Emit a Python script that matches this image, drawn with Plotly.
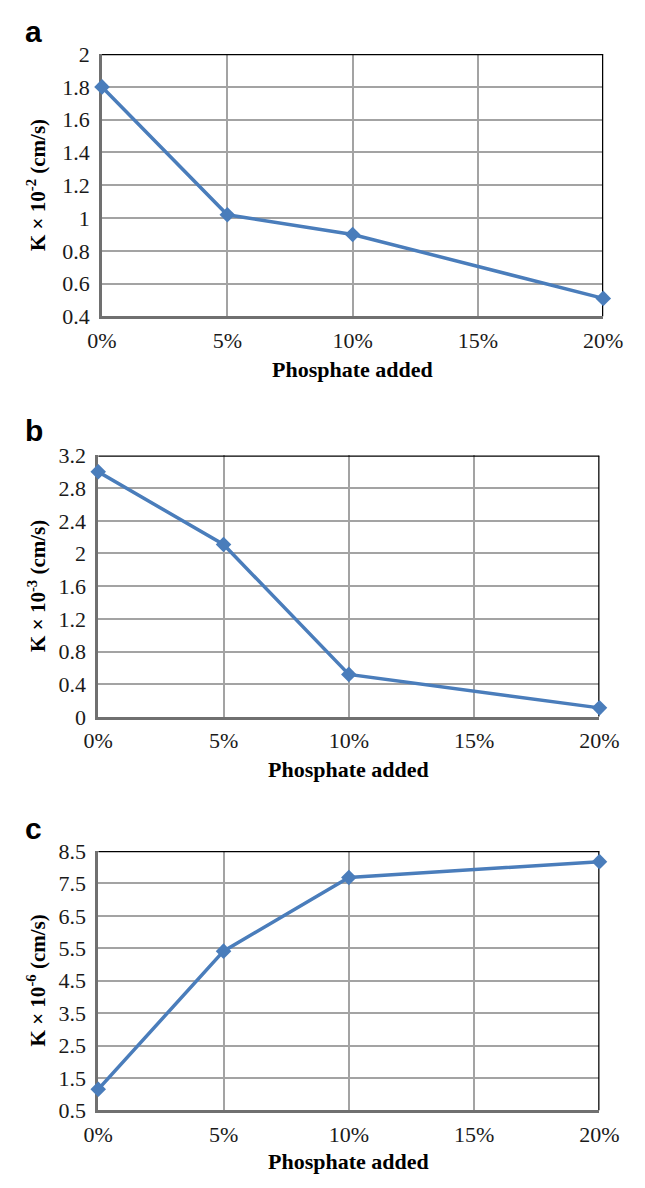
import plotly.graph_objects as go

# ---- data ----
phosphate_pct = [0, 5, 10, 20]
tick_pct = [0, 5, 10, 15, 20]
k_a = [1.80, 1.02, 0.90, 0.51]   # K x 10^-2 cm/s
k_b = [3.00, 2.11, 0.52, 0.11]   # K x 10^-3 cm/s
k_c = [1.15, 5.41, 7.68, 8.17]   # K x 10^-6 cm/s
panel_labels = ["a", "b", "c"]
y_titles = ["K × 10<sup>-2</sup> (cm/s)", "K × 10<sup>-3</sup> (cm/s)", "K × 10<sup>-6</sup> (cm/s)"]
x_title = "Phosphate added"

W, H = 645, 1188

def px_x(v):
    return v / W

def px_y(v):
    return 1 - v / H

# panel geometry in pixels: (left, right, top, bottom)
geo = [(92, 622, 43, 311), (88, 618, 453, 720), (88, 618, 857, 1122)]
yranges = [(0.4, 2.0, 0.2, 0.4), (0.0, 3.2, 0.4, 0.0), (0.5, 8.5, 1.0, 0.5)]
xrange_ = (0, 20)
series = [k_a, k_b, k_c]
label_y = [20, 428, 834]
xtitle_y = [365, 774, 1174]

blue = "#4a7dbb"
grid = "#a3a3a3"
axc = "#707070"
serif = "Liberation Serif, Times New Roman, serif"

fig = go.Figure()
layout = dict(width=W, height=H, margin=dict(l=0, r=0, t=0, b=0),
              paper_bgcolor="white", plot_bgcolor="white", showlegend=False)
annotations = []
shapes = []

for i in range(3):
    l, r, t, b = geo[i]
    sfx = "" if i == 0 else str(i + 1)
    xa, ya = "x" + sfx, "y" + sfx
    y0, y1, dt, t0 = yranges[i]
    fig.add_trace(go.Scatter(
        x=phosphate_pct, y=series[i], xaxis=xa, yaxis=ya, mode="lines+markers",
        line=dict(color=blue, width=3.5),
        marker=dict(symbol="diamond", size=12, color=blue),
        cliponaxis=False))
    layout["xaxis" + sfx] = dict(
        domain=[px_x(l), px_x(r)], anchor=ya, range=list(xrange_),
        tickvals=tick_pct, ticktext=[f"{v}%" for v in tick_pct],
        showgrid=True, gridcolor=grid, gridwidth=1.5,
        showline=True, linecolor=axc, linewidth=2.5, mirror=False,
        ticks="", zeroline=False, layer="below traces",
        tickfont=dict(family=serif, size=22, color="#1a1a1a"),
        ticklabelstandoff=2)
    layout["yaxis" + sfx] = dict(
        domain=[px_y(b), px_y(t)], anchor=xa, range=[y0, y1],
        tick0=t0, dtick=dt, tickmode="linear",
        showgrid=True, gridcolor=grid, gridwidth=1.5,
        showline=True, linecolor=axc, linewidth=2.5, mirror=False,
        ticks="", zeroline=False, layer="below traces",
        tickfont=dict(family=serif, size=22, color="#1a1a1a"),
        ticklabelstandoff=5)
    # top and right frame lines (black)
    shapes.append(dict(type="line", xref=xa, yref=ya,
                       x0=xrange_[0], x1=xrange_[1], y0=y1, y1=y1,
                       line=dict(color="black", width=2.5), layer="between"))
    shapes.append(dict(type="line", xref=xa, yref=ya,
                       x0=xrange_[1], x1=xrange_[1], y0=y0, y1=y1,
                       line=dict(color="black", width=2.5), layer="between"))
    # panel letter
    annotations.append(dict(text=f"<b>{panel_labels[i]}</b>", xref="paper", yref="paper",
                            x=px_x(20), y=px_y(label_y[i]), showarrow=False,
                            xanchor="center", yanchor="middle",
                            font=dict(family="Liberation Sans, Arial, sans-serif", size=30, color="black")))
    # x title
    annotations.append(dict(text=f"<b>{x_title}</b>", xref="paper", yref="paper",
                            x=px_x((l + r) / 2), y=px_y(xtitle_y[i]), showarrow=False,
                            xanchor="center", yanchor="middle",
                            font=dict(family=serif, size=22, color="black")))
    # y title
    annotations.append(dict(text=f"<b>{y_titles[i]}</b>", xref="paper", yref="paper",
                            x=px_x(23), y=px_y((t + b) / 2), showarrow=False, textangle=-90,
                            xanchor="center", yanchor="middle",
                            font=dict(family=serif, size=21, color="black")))

layout["annotations"] = annotations
layout["shapes"] = shapes
fig.update_layout(**layout)
fig.write_html("out.html", config={"displayModeBar": False},
               post_script="document.body.style.margin='0';document.body.style.overflow='hidden';")
